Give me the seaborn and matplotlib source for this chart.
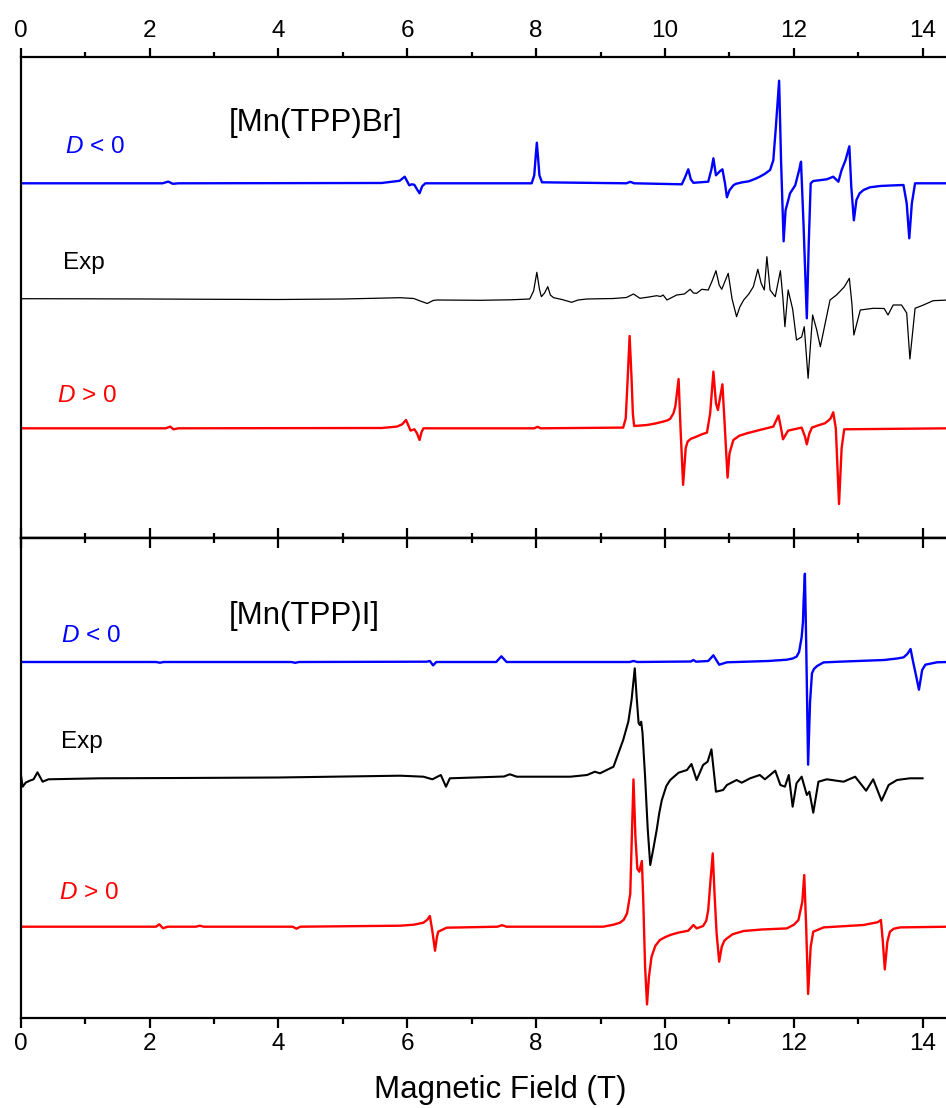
import matplotlib
matplotlib.use("Agg")
import matplotlib.pyplot as plt
from matplotlib.ticker import MultipleLocator
import pandas as pd
import seaborn as sns

# ---------------- data: HF-EPR spectra (field in T, signal in arbitrary units) ----------------
# [Mn(TPP)Br], simulation with D < 0
BR_NEG_FIELD = [0.0, 2.20, 2.29, 2.36, 2.45, 5.60, 5.88, 5.96, 6.03, 6.07,
                6.11, 6.15, 6.19, 6.23, 6.28, 7.93, 7.97, 7.99, 8.01, 8.03,
                8.05, 8.09, 9.40, 9.46, 9.52, 10.26, 10.31, 10.36, 10.40, 10.44,
                10.67, 10.72, 10.75, 10.79, 10.85, 10.89, 10.93, 10.96, 11.00, 11.06,
                11.10, 11.20, 11.30, 11.40, 11.47, 11.55, 11.63, 11.68, 11.72, 11.77,
                11.80, 11.84, 11.87, 11.94, 12.02, 12.08, 12.11, 12.15, 12.20, 12.23,
                12.26, 12.30, 12.51, 12.61, 12.69, 12.74, 12.80, 12.86, 12.89, 12.93,
                12.97, 13.02, 13.08, 13.18, 13.34, 13.50, 13.70, 13.75, 13.79, 13.83,
                13.88, 14.40]
BR_NEG_SIGNAL = [0, 0, 1.7, -0.5, 0, 0.3, 2.5, 6.6, -2, -1,
                 -1.5, -6, -10, -3, 0, 0, 8, 25, 40.6, 25,
                 8, 1, 0, 1.5, 0, -1, 6, 14, 4, 0.5,
                 1.6, 14, 25, 8, 12, 14, 0, -14, -7, -2,
                 -0.5, 1, 2, 4.5, 6.6, 9.5, 13.3, 23, 56.6, 102.6,
                 23, -58, -27, -10, -2, 13, 21.6, -43, -135, -60,
                 0, 2.3, 4, 6.6, 1.6, 13.3, 23, 37, -3.4, -37,
                 -16.7, -10, -6.7, -4, -2.7, -2.2, -1.7, -20, -55, -20,
                 0, 0]

# [Mn(TPP)Br], experiment
BR_EXP_FIELD = [0.0, 1.0, 2.0, 3.0, 4.0, 5.0, 5.89, 6.10, 6.20, 6.31, 6.40, 6.46, 7.13, 7.60,
                7.90, 7.96, 8.01, 8.05, 8.08, 8.13, 8.18, 8.22, 8.27, 8.40, 8.55, 8.65, 8.79,
                9.20, 9.40, 9.51, 9.61, 9.75, 9.87, 9.93, 9.97, 10.03, 10.18, 10.30, 10.39,
                10.44, 10.49, 10.57, 10.67, 10.73, 10.79, 10.84, 10.88, 10.98, 11.04, 11.11,
                11.16, 11.22, 11.30, 11.37, 11.44, 11.49, 11.54, 11.58, 11.63, 11.71, 11.79,
                11.83, 11.86, 11.91, 11.98, 12.04, 12.12, 12.16, 12.22, 12.29, 12.35, 12.41,
                12.56, 12.66, 12.78, 12.86, 12.90, 12.93, 13.03, 13.23, 13.40, 13.46, 13.54,
                13.67, 13.75, 13.80, 13.88, 14.01, 14.16, 14.40]
BR_EXP_SIGNAL = [0.3, 0.2, 0, -0.3, -0.5, 0, 1.3, 0.5, -2, -4.5, -1.5, -1, -1.3, -0.8,
                 0, 8, 26.7, 10, 2.3, 6, 12.3, 4, 1.3, -0.5, -3.3, -1, 0,
                 0.5, 1.5, 5, 0.7, 2, 3.3, 2.5, 4, -1, 4, 5, 9.7,
                 6, 5.7, 9.7, 9, 18, 28.3, 14, 9.7, 25.7, 0, -17.7,
                 -8, -1, 5, 12.3, 29.7, 16, 9, 42.3, 9, 2.3, 28.3,
                 0, -27.7, 9, -10, -41, -38, -27.7, -79.3, -16, -30, -47.7,
                 -1, 4, 12, 20.7, -5, -36, -11, -9.3, -9.5, -16, -6,
                 -6, -14, -60, -9.3, -6, -1.7, -1]

# [Mn(TPP)Br], simulation with D > 0
BR_POS_FIELD = [0.0, 2.25, 2.32, 2.37, 2.45, 5.60, 5.84, 5.92, 5.98, 6.05,
                6.11, 6.15, 6.19, 6.22, 6.25, 7.97, 8.02, 8.07, 9.35, 9.39,
                9.42, 9.45, 9.48, 9.50, 9.52, 9.72, 9.85, 9.97, 10.04, 10.08,
                10.13, 10.16, 10.21, 10.24, 10.28, 10.32, 10.35, 10.40, 10.49, 10.57,
                10.65, 10.70, 10.75, 10.79, 10.82, 10.89, 10.92, 10.97, 11.00, 11.06,
                11.15, 11.27, 11.45, 11.68, 11.76, 11.80, 11.83, 11.91, 12.12, 12.17,
                12.20, 12.24, 12.28, 12.38, 12.48, 12.53, 12.57, 12.61, 12.65, 12.70,
                12.74, 12.78, 14.40]
BR_POS_SIGNAL = [0, 0, 1.7, -1, 0, 0.3, 1.7, 4, 8.3, -2.3,
                 -1, -5, -11.7, -4, 0, 0, 1.5, 0, 0.7, 10,
                 50, 92.3, 50, 15, 2.3, 3.3, 4.8, 6.7, 8, 9.5,
                 15, 22, 49.3, 0, -56.5, -20, -13.3, -10.5, -8.3, -6,
                 -4.3, 15, 56.7, 25, 18.3, 44, 10, -49.3, -25, -11.7,
                 -7.5, -5, -2, 1.7, 12.7, 0, -11, -2.3, 0.7, -8,
                 -16, -5, 0.7, 3, 5, 7.5, 10, 16, 0, -75.7,
                 -20, -1, 0]

# [Mn(TPP)I], simulation with D < 0
I_NEG_FIELD = [0.0, 2.10, 2.16, 2.22, 4.20, 4.26, 4.32, 6.30, 6.35, 6.40,
               6.45, 7.38, 7.46, 7.54, 9.45, 9.51, 9.57, 10.40, 10.44, 10.48,
               10.67, 10.75, 10.84, 10.96, 11.60, 11.89, 11.98, 12.04, 12.08, 12.12,
               12.14, 12.15, 12.17, 12.19, 12.22, 12.25, 12.28, 12.31, 12.36, 12.46,
               12.70, 13.40, 13.60, 13.70, 13.76, 13.81, 13.85, 13.90, 13.94, 13.99,
               14.04, 14.22, 14.40]
I_NEG_SIGNAL = [0, 0, -0.7, 0, 0, -0.8, 0, 0.3, 1, -3.4,
                0, 0, 5.7, 0, 0, 1, 0, 0.5, 2, 0.3,
                1, 6.7, -2.7, -0.3, 1, 2.3, 3.5, 5.3, 10, 25,
                40, 60, 88.3, 20, -102.7, -40, -11.3, -7, -4, -0.4,
                0.3, 2, 3.5, 4.6, 8, 13, 0, -15, -27.7, -8,
                -2.7, -0.3, 0]

# [Mn(TPP)I], experiment
I_EXP_FIELD = [0.00, 0.03, 0.08, 0.14, 0.20, 0.26, 0.34, 0.43, 1.23, 2.50,
               4.00, 5.89, 6.25, 6.39, 6.52, 6.60, 6.66, 7.13, 7.50, 7.59,
               7.70, 8.53, 8.79, 8.91, 8.99, 9.20, 9.35, 9.43, 9.48, 9.53,
               9.56, 9.59, 9.61, 9.63, 9.65, 9.69, 9.73, 9.77, 9.82, 9.87,
               9.91, 9.95, 10.02, 10.08, 10.21, 10.34, 10.41, 10.49, 10.59, 10.66,
               10.72, 10.79, 10.90, 10.96, 11.11, 11.19, 11.32, 11.47, 11.55, 11.71,
               11.79, 11.86, 11.92, 11.98, 12.04, 12.12, 12.20, 12.24, 12.30, 12.38,
               12.51, 12.77, 12.95, 13.12, 13.23, 13.36, 13.47, 13.60, 13.80, 14.00]
I_EXP_SIGNAL = [4.7, -8.7, -4.5, -2.7, -1.3, 5.7, -3.7, -1.3, -0.3, 0,
                0.5, 2.3, 1.3, -1.3, 3, -8.7, -0.3, 0.7, 1.5, 3.7,
                1.3, 1.3, 3, 6.3, 4.7, 11.3, 38, 56.3, 78, 109.7,
                80, 54.7, 53, 56.3, 45, 1.3, -50, -87, -70, -52,
                -35, -22, -8, -2, 5.3, 8, 14, -2, 13, 16.3,
                28.7, -13.7, -12, -7, -2, -4.7, -0.3, 3, -1.3, 7.3,
                -7, -8.7, 3, -28.7, -5.3, 1.3, -17, -13.7, -34.7, -3.7,
                -1.3, -3.7, 1.3, -12.7, -1.3, -22.7, -7, -2, -0.3, -0.3]

# [Mn(TPP)I], simulation with D > 0
I_POS_FIELD = [0.0, 2.10, 2.15, 2.21, 2.28, 2.72, 2.78, 2.84, 4.22, 4.28,
               4.34, 5.89, 6.10, 6.25, 6.31, 6.35, 6.39, 6.43, 6.46, 6.48,
               6.61, 7.40, 7.47, 7.54, 9.04, 9.20, 9.30, 9.36, 9.41, 9.46,
               9.48, 9.51, 9.54, 9.57, 9.60, 9.64, 9.66, 9.69, 9.72, 9.75,
               9.79, 9.85, 9.92, 10.00, 10.08, 10.20, 10.36, 10.44, 10.49, 10.59,
               10.64, 10.67, 10.71, 10.74, 10.77, 10.80, 10.84, 10.88, 10.92, 10.96,
               11.05, 11.22, 11.50, 11.89, 12.00, 12.07, 12.13, 12.16, 12.19, 12.22,
               12.26, 12.30, 12.46, 13.08, 13.30, 13.35, 13.38, 13.41, 13.45, 13.49,
               13.55, 13.65, 14.40]
I_POS_SIGNAL = [0, 0, 2.4, -1.6, 0, 0, 1, 0, 0, -2,
                0, 1, 2, 4, 7, 10.7, -5, -24, -10, -5,
                -1, 0, 1.5, 0, 0, 2, 4, 7, 13.3, 33,
                80, 147.3, 90, 58, 55, 65.7, 30, -40, -77.7, -50,
                -30, -19, -13.3, -10.5, -8.3, -6, -4, 1.7, -1.7, 0.7,
                6, 16.7, 50, 73.3, 30, -6.7, -35, -20, -14, -11.7,
                -7.5, -4.3, -2.8, -1.7, 2, 6.7, 25, 51.7, 0, -67.3,
                -20, -5, -0.7, 1.7, 4.5, 6.7, -15, -42.7, -15, -5,
                -2, -0.7, 0]

FIELD_MAJOR = [0, 2, 4, 6, 8, 10, 12, 14]

BLUE = "#0000FF"
RED = "#FF0000"
BLACK = "#000000"

# ---------------- style ----------------
sns.set_style("ticks")
plt.rcParams["font.family"] = ["Liberation Sans", "DejaVu Sans"]
plt.rcParams["mathtext.fontset"] = "custom"
plt.rcParams["mathtext.rm"] = "Liberation Sans"
plt.rcParams["mathtext.it"] = "Liberation Sans:italic"
plt.rcParams["axes.linewidth"] = 1.6
for key in ("text.color", "axes.edgecolor", "axes.labelcolor", "xtick.color", "ytick.color"):
    plt.rcParams[key] = BLACK

fig = plt.figure(figsize=(9.46, 11.08), dpi=100)
W, H = 946.0, 1108.0
left = 20.7 / W
ax_top = fig.add_axes([left, 1 - 538 / H, 1 - left, (538 - 57) / H])
ax_bot = fig.add_axes([left, 1 - 1018 / H, 1 - left, (1018 - 538) / H])

XMAX = 14.36


def draw(ax, field, signal, offset, color, lw):
    df = pd.DataFrame({"field": field, "signal": signal})
    df["y"] = df["signal"] + offset
    sns.lineplot(data=df, x="field", y="y", ax=ax, color=color, linewidth=lw,
                 estimator=None, sort=False, legend=False)


# top panel: [Mn(TPP)Br]
draw(ax_top, BR_NEG_FIELD, BR_NEG_SIGNAL, 354.7, BLUE, 1.7)
draw(ax_top, BR_EXP_FIELD, BR_EXP_SIGNAL, 239.0, BLACK, 0.9)
draw(ax_top, BR_POS_FIELD, BR_POS_SIGNAL, 109.7, RED, 1.7)
ax_top.set_ylim(0, 481)

# bottom panel: [Mn(TPP)I]
draw(ax_bot, I_NEG_FIELD, I_NEG_SIGNAL, 356.0, BLUE, 1.7)
draw(ax_bot, I_EXP_FIELD, I_EXP_SIGNAL, 240.0, BLACK, 1.5)
draw(ax_bot, I_POS_FIELD, I_POS_SIGNAL, 91.3, RED, 1.7)
ax_bot.set_ylim(0, 480)

TICK_FS = 17.5
for ax in (ax_top, ax_bot):
    ax.set_xlim(0, XMAX)
    ax.set_yticks([])
    ax.set_ylabel("")
    ax.set_xlabel("")
    ax.spines["right"].set_visible(False)
    ax.xaxis.set_major_locator(MultipleLocator(2))
    ax.xaxis.set_minor_locator(MultipleLocator(1))

# outer tick rows (outward, labelled)
ax_top.tick_params(axis="x", which="both", direction="out", top=True, bottom=False,
                   labeltop=True, labelbottom=False, width=1.6)
ax_top.tick_params(axis="x", which="major", length=6.5, pad=4, labelsize=TICK_FS)
ax_top.tick_params(axis="x", which="minor", length=3.5)

ax_bot.tick_params(axis="x", which="both", direction="out", top=False, bottom=True,
                   labeltop=False, labelbottom=True, width=1.6)
ax_bot.tick_params(axis="x", which="major", length=7, pad=4, labelsize=TICK_FS)
ax_bot.tick_params(axis="x", which="minor", length=4)

# inner tick rows along the shared border (inward, unlabelled)
for ax, side in ((ax_top, "bottom"), (ax_bot, "top")):
    sec = ax.secondary_xaxis(side)
    sec.xaxis.set_major_locator(MultipleLocator(2))
    sec.xaxis.set_minor_locator(MultipleLocator(1))
    sec.tick_params(axis="x", which="both", direction="in", width=1.6,
                    labelbottom=False, labeltop=False)
    sec.tick_params(axis="x", which="major", length=7)
    sec.tick_params(axis="x", which="minor", length=3.5)
    sec.spines[side].set_linewidth(1.6)

ax_bot.set_xticks(FIELD_MAJOR)
ax_top.set_xticks(FIELD_MAJOR)
ax_bot.set_xlabel("Magnetic Field (T)", fontsize=22.5)
ax_bot.xaxis.set_label_coords(0.518, -0.118)

# annotations
LBL_FS = 17.5
TITLE_FS = 22.5
ax_top.text(3.23, 407.3, "[Mn(TPP)Br]", fontsize=TITLE_FS, ha="left", va="baseline")
ax_top.text(0.69, 384.7, r"$\mathit{D}$ < 0", color=BLUE, fontsize=LBL_FS, ha="left", va="baseline")
ax_top.text(0.65, 268.7, "Exp", color=BLACK, fontsize=LBL_FS, ha="left", va="baseline")
ax_top.text(0.56, 135.7, r"$\mathit{D}$ > 0", color=RED, fontsize=LBL_FS, ha="left", va="baseline")

ax_bot.text(3.23, 394.0, "[Mn(TPP)I]", fontsize=TITLE_FS, ha="left", va="baseline")
ax_bot.text(0.63, 376.3, r"$\mathit{D}$ < 0", color=BLUE, fontsize=LBL_FS, ha="left", va="baseline")
ax_bot.text(0.62, 269.7, "Exp", color=BLACK, fontsize=LBL_FS, ha="left", va="baseline")
ax_bot.text(0.60, 119.0, r"$\mathit{D}$ > 0", color=RED, fontsize=LBL_FS, ha="left", va="baseline")

fig.savefig("out.png", dpi=100)
